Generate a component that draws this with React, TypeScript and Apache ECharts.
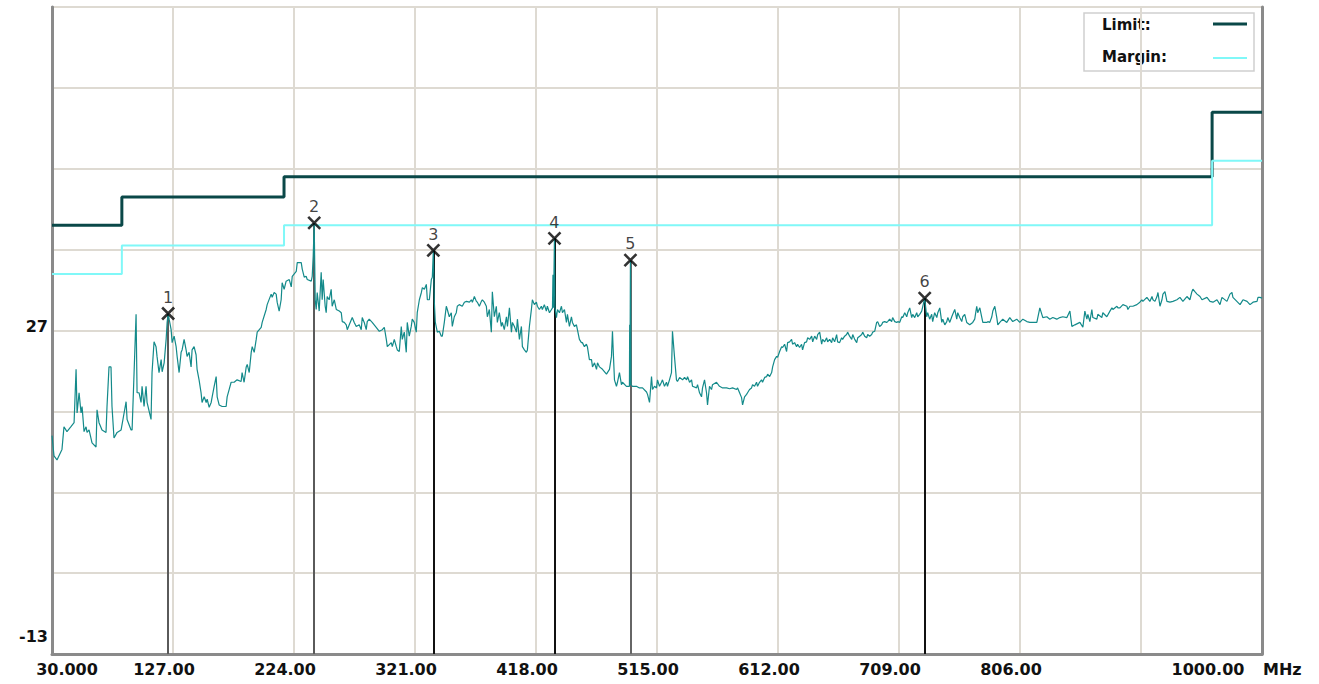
import React, { useEffect, useRef } from "react";
import * as echarts from "echarts";

// ---- data ----
const xTickLabels = ["30.000", "127.00", "224.00", "321.00", "418.00", "515.00", "612.00", "709.00", "806.00", "", "1000.00"];
const yShownLabels = [27, -13];
const legendNames = ["Limit:", "Margin:"];
const xUnit = "MHz";

const limitMHz = [30, 86, 86, 216, 216, 960, 960, 1000];
const limitDb = [40, 40, 43.5, 43.5, 46, 46, 54, 54];
const marginDb = [34, 34, 37.5, 37.5, 40, 40, 48, 48];

const markerIds = ["1", "2", "3", "4", "5", "6"];
const markerMHz = [123.1, 240.2, 335.7, 432.8, 493.7, 729.6];
const markerDb = [29.1, 40.3, 36.9, 38.4, 35.7, 31.0];

const tracePoints: [number, number][] = [
  [30.0,14.0],[31.6,11.5],[34.0,11.0],[38.0,12.3],[39.6,15.1],[42.0,14.5],[45.2,15.1],[47.7,15.6],[49.3,22.2],[50.1,16.8],[51.7,19.3],[53.3,16.8],[54.1,17.6],[55.7,14.5],[57.3,15.1],[58.1,14.4],[59.7,14.7],[62.1,13.1],[65.3,12.6],[66.1,17.2],[67.7,15.6],[70.1,14.7],[73.3,14.4],[74.1,17.6],[75.7,22.5],[77.3,22.5],[78.1,17.6],[79.7,13.7],[82.2,14.4],[85.4,14.7],[87.8,16.8],[89.4,18.2],[90.2,16.0],[93.4,14.7],[94.2,14.7],[95.8,21.8],[97.4,29.0],[98.2,19.3],[99.8,19.3],[101.4,18.1],[102.2,20.1],[103.8,17.6],[105.4,20.1],[106.2,18.1],[109.4,16.0],[110.2,21.8],[111.8,25.6],[113.4,25.0],[114.2,23.8],[115.8,21.8],[117.5,23.4],[118.3,21.9],[119.9,23.0],[121.5,25.9],[122.3,28.0],[123.1,29.1],[123.9,28.4],[125.5,27.1],[126.3,25.5],[127.9,26.3],[129.5,25.0],[130.3,23.8],[131.9,21.8],[133.5,24.3],[134.3,24.6],[135.9,25.9],[137.5,24.6],[138.3,23.8],[139.9,24.3],[141.5,22.5],[142.3,24.6],[143.9,25.0],[145.5,24.0],[146.3,22.2],[147.9,20.9],[149.5,19.3],[150.3,18.1],[152.0,18.8],[153.6,18.1],[154.4,18.5],[156.0,17.5],[157.6,18.1],[158.4,18.8],[160.0,20.1],[161.6,21.3],[162.4,18.8],[164.0,17.8],[166.4,17.6],[169.6,17.6],[170.4,18.8],[172.0,19.7],[173.6,20.6],[176.0,20.6],[178.4,20.9],[181.6,20.7],[182.4,21.8],[184.0,20.6],[185.7,22.5],[186.5,22.8],[188.1,21.8],[189.7,24.3],[190.5,25.0],[192.1,24.3],[193.7,25.9],[194.5,26.8],[197.7,27.4],[198.5,28.0],[201.7,29.6],[202.5,30.2],[205.7,31.5],[206.5,31.1],[208.1,31.7],[209.7,31.5],[210.5,30.5],[212.1,29.4],[213.7,30.8],[214.5,32.9],[216.1,32.1],[217.7,33.1],[220.2,33.3],[221.8,32.4],[222.6,33.7],[225.8,34.3],[226.6,35.4],[229.8,35.4],[230.6,34.6],[232.2,33.6],[233.8,33.7],[234.6,33.3],[237.8,33.1],[238.6,33.7],[239.4,36.2],[240.2,40.3],[240.6,35.4],[241.0,30.8],[241.8,29.6],[242.6,31.7],[244.2,29.4],[245.8,34.2],[246.6,30.8],[247.4,33.3],[249.0,30.0],[249.8,29.2],[250.6,31.2],[252.2,30.8],[253.8,32.1],[254.6,30.0],[256.3,30.8],[257.9,29.6],[260.3,29.4],[261.9,29.2],[262.7,28.1],[264.3,28.0],[265.9,27.7],[266.7,27.1],[268.3,27.7],[270.7,28.6],[272.3,28.0],[273.9,27.5],[276.3,27.7],[277.9,27.1],[278.7,28.6],[280.3,28.0],[281.9,27.1],[282.7,28.1],[284.3,28.4],[286.7,28.0],[289.9,27.4],[292.4,26.9],[294.8,27.1],[296.4,27.4],[298.0,25.9],[298.8,25.0],[302.0,25.5],[302.8,25.0],[304.4,25.9],[306.0,25.0],[306.8,24.6],[308.4,24.4],[310.0,27.5],[310.8,25.9],[312.4,26.8],[314.0,24.3],[314.8,28.0],[316.4,26.3],[318.0,27.5],[318.8,28.4],[320.4,28.0],[322.0,26.8],[322.8,29.2],[324.5,30.8],[326.1,31.7],[326.9,32.3],[328.5,32.1],[330.1,32.7],[330.9,30.8],[332.5,30.8],[334.1,33.3],[334.9,33.6],[335.7,36.9],[336.5,30.5],[337.3,28.0],[338.9,26.8],[340.5,26.9],[342.1,26.3],[342.9,26.3],[344.5,28.0],[346.1,30.0],[346.9,29.6],[348.5,28.7],[350.1,29.2],[350.9,27.5],[352.5,28.7],[354.1,29.2],[354.9,30.0],[356.5,30.2],[358.9,30.0],[360.6,30.5],[362.2,30.6],[364.6,30.5],[366.2,30.8],[367.0,30.5],[368.6,31.2],[370.2,30.6],[371.0,30.5],[372.6,30.0],[374.2,30.6],[375.0,30.8],[376.6,30.5],[378.2,30.0],[379.0,28.7],[380.6,29.6],[382.2,26.8],[383.0,31.8],[384.6,28.7],[386.2,30.0],[387.0,28.0],[388.6,29.2],[390.2,27.5],[391.0,28.0],[392.6,27.1],[394.3,28.7],[395.1,27.5],[396.7,29.8],[398.3,26.8],[399.1,28.0],[400.7,27.5],[402.3,26.8],[403.1,28.4],[404.7,25.9],[406.3,27.5],[407.1,25.0],[408.7,24.6],[410.3,24.3],[411.1,24.6],[412.7,27.5],[414.3,29.6],[415.1,30.8],[416.7,30.2],[418.3,30.5],[419.1,30.0],[420.7,29.6],[422.3,30.0],[423.1,29.6],[424.7,30.2],[426.3,29.4],[427.1,30.0],[428.8,29.2],[430.4,29.6],[431.2,29.8],[431.6,33.9],[432.0,29.8],[432.4,33.9],[432.8,38.4],[433.2,29.8],[434.4,28.6],[435.2,29.6],[436.8,29.2],[438.4,30.0],[439.2,29.2],[440.8,29.6],[442.4,28.0],[443.2,29.0],[444.8,27.5],[446.4,28.7],[447.2,28.0],[448.8,27.5],[450.4,27.7],[451.2,27.1],[452.8,25.9],[454.4,25.5],[455.2,25.5],[456.8,25.0],[458.4,25.3],[459.2,25.0],[460.8,23.4],[462.5,23.4],[463.3,22.5],[464.9,23.0],[466.5,22.2],[467.3,23.0],[468.9,22.5],[471.3,22.2],[474.5,21.6],[476.9,22.2],[478.5,23.8],[479.3,26.9],[480.1,23.8],[480.9,20.9],[482.5,20.1],[483.3,20.6],[484.9,21.8],[486.5,20.3],[487.3,20.6],[490.5,20.1],[492.9,20.1],[493.1,27.7],[493.3,20.3],[493.5,27.7],[493.7,35.7],[494.1,20.3],[495.3,20.1],[498.5,20.1],[500.9,19.9],[503.4,19.9],[506.6,19.4],[507.4,19.1],[509.0,18.1],[510.6,21.3],[511.4,19.7],[513.0,20.1],[514.6,19.9],[515.4,20.9],[517.0,20.1],[518.6,20.6],[519.4,20.9],[521.0,20.1],[522.6,20.6],[523.4,20.1],[525.0,20.9],[526.6,21.8],[527.4,26.9],[529.0,23.8],[530.6,20.9],[531.4,20.7],[533.1,21.2],[535.5,20.9],[537.1,21.2],[538.7,20.9],[539.5,21.3],[541.1,20.6],[542.7,20.9],[543.5,20.1],[546.7,19.9],[547.5,20.3],[549.1,19.3],[550.7,18.8],[551.5,19.9],[553.1,20.9],[554.7,19.3],[555.5,17.8],[557.1,20.1],[558.7,19.7],[559.5,20.3],[562.7,20.6],[565.1,20.1],[567.6,19.9],[570.8,19.9],[573.2,19.8],[575.6,19.9],[578.8,19.7],[579.6,19.9],[581.2,19.3],[582.8,18.7],[583.6,17.8],[585.2,18.8],[586.8,19.1],[587.6,19.3],[589.2,19.7],[590.8,19.9],[591.6,20.3],[593.2,20.1],[594.8,20.6],[595.6,20.1],[597.2,20.6],[598.8,20.9],[599.6,20.6],[601.3,21.2],[602.9,21.3],[603.7,21.6],[605.3,21.3],[606.9,21.8],[607.7,22.5],[609.3,23.4],[610.9,23.8],[611.7,23.7],[613.3,24.4],[614.9,25.0],[615.7,24.9],[617.3,25.3],[618.9,24.4],[619.7,25.5],[621.3,25.6],[622.9,25.9],[623.7,25.3],[625.3,25.5],[626.9,25.0],[627.7,25.3],[629.3,24.9],[630.9,25.3],[631.7,24.6],[633.3,25.5],[634.9,25.6],[635.8,26.1],[637.4,25.9],[639.0,26.3],[639.8,25.6],[641.4,26.3],[643.0,25.9],[643.8,26.5],[645.4,26.8],[647.0,25.3],[647.8,25.9],[649.4,25.6],[651.0,26.1],[651.8,25.6],[653.4,25.9],[655.0,25.5],[655.8,26.1],[657.4,25.6],[659.0,26.5],[659.8,25.6],[661.4,25.5],[663.0,26.1],[663.8,25.9],[665.4,26.3],[667.0,26.5],[667.8,26.8],[669.4,26.3],[671.1,25.9],[671.9,26.5],[673.5,25.9],[675.1,25.5],[675.9,26.1],[677.5,26.3],[679.1,26.5],[679.9,26.8],[681.5,26.3],[683.1,26.1],[683.9,26.5],[685.5,26.3],[687.1,26.5],[687.9,26.8],[689.5,26.9],[691.1,28.0],[691.9,28.1],[693.5,27.5],[695.1,27.7],[695.9,28.0],[697.5,28.1],[699.1,28.0],[699.9,28.1],[701.5,28.4],[703.1,28.1],[703.9,28.6],[705.6,28.1],[707.2,28.0],[708.0,28.1],[709.6,28.0],[711.2,28.7],[712.0,28.6],[713.6,29.2],[715.2,28.7],[716.0,29.2],[717.6,29.8],[719.2,28.6],[720.0,29.0],[721.6,28.6],[723.2,29.2],[724.0,28.7],[725.6,29.0],[727.2,29.4],[729.6,31.0],[731.2,28.7],[732.0,29.2],[733.6,28.4],[735.2,29.0],[736.0,28.1],[737.6,29.2],[739.3,28.6],[740.1,29.2],[741.7,29.8],[743.3,28.0],[744.1,28.4],[745.7,27.7],[747.3,28.1],[748.1,28.6],[749.7,28.0],[751.3,28.7],[752.1,29.0],[753.7,29.6],[755.3,28.4],[756.1,29.2],[757.7,28.6],[759.3,28.1],[760.1,28.7],[761.7,29.0],[763.3,28.0],[765.7,27.7],[768.1,28.0],[769.7,28.4],[771.3,30.0],[772.1,29.2],[773.8,29.8],[775.4,28.6],[776.2,28.0],[779.4,28.0],[780.2,28.1],[781.8,28.0],[783.4,28.7],[784.2,29.4],[785.8,30.0],[787.4,28.6],[788.2,27.7],[789.8,28.0],[792.2,28.4],[795.4,28.0],[797.8,28.6],[800.2,28.1],[803.4,28.4],[805.8,28.0],[808.3,28.4],[811.5,28.1],[813.9,28.0],[816.3,28.0],[819.5,28.0],[821.9,29.8],[824.3,28.6],[827.5,28.7],[829.9,28.4],[832.3,28.6],[835.5,28.4],[837.9,28.6],[840.3,28.7],[843.6,28.6],[846.0,29.4],[847.6,27.5],[850.0,27.7],[854.0,28.0],[856.4,27.4],[858.0,29.4],[859.6,28.4],[860.4,29.0],[862.0,28.1],[863.6,29.6],[864.4,28.6],[867.6,28.4],[868.4,29.0],[871.6,28.6],[872.4,29.2],[875.6,28.7],[878.1,29.4],[879.7,29.8],[880.5,29.6],[883.7,30.0],[884.5,29.8],[886.1,29.8],[888.5,30.2],[891.7,30.0],[892.5,29.6],[894.1,30.0],[896.5,30.0],[899.7,30.2],[902.1,30.5],[903.7,30.8],[904.5,30.6],[907.7,31.1],[910.1,30.6],[911.8,31.2],[912.6,30.8],[914.2,30.6],[915.8,31.2],[916.6,31.7],[918.2,30.0],[919.8,30.8],[920.6,31.5],[922.2,31.8],[923.8,30.6],[926.2,30.5],[928.6,30.6],[931.8,30.8],[934.2,31.1],[936.6,30.6],[939.8,31.2],[942.2,30.8],[943.8,31.8],[944.6,32.1],[946.2,31.8],[947.9,31.5],[950.3,31.2],[951.9,30.8],[955.9,31.1],[958.3,30.6],[960.7,30.5],[963.9,30.8],[966.3,30.2],[967.9,31.1],[971.9,30.6],[974.3,31.5],[975.9,31.7],[976.7,31.1],[982.4,30.2],[984.0,30.6],[984.8,30.8],[988.0,30.6],[990.4,30.2],[992.8,30.5],[996.0,30.6],[996.8,31.1],[998.4,31.1],[1000.0,31.0]
];

// ---- styles ----
const FONT = "DejaVu Sans";
const LIMIT_COLOR = "#0a4848";
const MARGIN_COLOR = "#80f8f8";
const TRACE_COLOR = "#138a8a";
const GRID_COLOR = "#dedad2";
const AXIS_COLOR = "#8a8a8a";
const markerLineColors = ["#5a5a5a", "#5a5a5a", "#111111", "#111111", "#666666", "#111111"];

export default function App() {
  const ref = useRef<HTMLDivElement>(null);

  useEffect(() => {
    if (!ref.current) return;
    const chart = echarts.init(ref.current, undefined, { renderer: "svg" });

    const labelStyle = { fontFamily: FONT, fontWeight: "bold" as const, fontSize: 16, color: "#111" };

    const option: any = {
      animation: false,
      backgroundColor: "#ffffff",
      grid: {
        left: 52,
        right: 57,
        top: 7,
        bottom: 30,
        show: true,
        borderColor: "#bcbcbc",
        borderWidth: 2,
        backgroundColor: "transparent",
      },
      xAxis: {
        type: "value",
        min: 30,
        max: 1000,
        interval: 97,
        name: `{u|${xUnit}}`,
        nameLocation: "end",
        nameGap: 1,
        nameTextStyle: {
          ...labelStyle,
          align: "left",
          verticalAlign: "top",
          rich: { u: { ...labelStyle, padding: [7, 0, 0, 0] } },
        },
        axisLine: { show: true, onZero: false, lineStyle: { color: AXIS_COLOR, width: 3 } },
        axisTick: { show: false },
        splitLine: { show: true, lineStyle: { color: GRID_COLOR, width: 2 } },
        axisLabel: {
          interval: 0,
          margin: 7,
          showMinLabel: true,
          showMaxLabel: true,
          ...labelStyle,
          formatter: (_v: number, idx: number) => {
            const t = xTickLabels[idx] ?? "";
            if (!t) return "";
            if (idx === 0) return `{first|${t}}`;
            if (idx === xTickLabels.length - 1) return `{last|${t}}`;
            return `{mid|${t}}`;
          },
          rich: {
            first: { ...labelStyle, padding: [0, 0, 0, 30] },
            mid: { ...labelStyle, padding: [0, 18, 0, 0] },
            last: { ...labelStyle, padding: [0, 108, 0, 0] },
          },
        },
      },
      yAxis: [
        {
          type: "value",
          min: -13,
          max: 67,
          interval: 10,
          axisLine: { show: true, onZero: false, lineStyle: { color: AXIS_COLOR, width: 3 } },
          axisTick: { show: false },
          splitLine: { show: true, lineStyle: { color: GRID_COLOR, width: 2 } },
          axisLabel: {
            margin: 4,
            ...labelStyle,
            formatter: (v: number) => {
              if (!yShownLabels.includes(v)) return "";
              return v === yShownLabels[1] ? `{low|${v}}` : `{std|${v}}`;
            },
            rich: {
              std: { ...labelStyle, padding: [0, 0, 8, 0] },
              low: { ...labelStyle, padding: [0, 0, 36, 0] },
            },
          },
        },
        {
          type: "value",
          position: "right",
          min: -13,
          max: 67,
          interval: 10,
          axisLine: { show: true, onZero: false, lineStyle: { color: AXIS_COLOR, width: 3 } },
          axisTick: { show: false },
          axisLabel: { show: false },
          splitLine: { show: false },
        },
      ],
      graphic: [
        {
          type: "group",
          z: 100,
          children: [
            {
              type: "rect",
              shape: { x: 1084, y: 13, width: 170, height: 58 },
              style: { fill: "#ffffff", stroke: "#cfcfcf", lineWidth: 1.5 },
            },
            {
              type: "text",
              x: 1102,
              y: 25,
              style: { text: legendNames[0], fontFamily: FONT, fontWeight: "bold", fontSize: 15, fill: "#111", verticalAlign: "middle" },
            },
            {
              type: "text",
              x: 1102,
              y: 57,
              style: { text: legendNames[1], fontFamily: FONT, fontWeight: "bold", fontSize: 15, fill: "#111", verticalAlign: "middle" },
            },
            {
              type: "line",
              shape: { x1: 1213, y1: 24, x2: 1247, y2: 24 },
              style: { stroke: LIMIT_COLOR, lineWidth: 3 },
            },
            {
              type: "line",
              shape: { x1: 1213, y1: 58, x2: 1247, y2: 58 },
              style: { stroke: MARGIN_COLOR, lineWidth: 2 },
            },
          ],
        },
      ],
      series: [
        {
          name: "Limit",
          type: "line",
          z: 2,
          symbol: "none",
          silent: true,
          lineStyle: { color: LIMIT_COLOR, width: 3 },
          data: limitMHz.map((f, i) => [f, limitDb[i]]),
        },
        {
          name: "Margin",
          type: "line",
          z: 2,
          symbol: "none",
          silent: true,
          lineStyle: { color: MARGIN_COLOR, width: 2 },
          data: limitMHz.map((f, i) => [f, marginDb[i]]),
        },
        {
          name: "MarkerLines",
          type: "lines",
          coordinateSystem: "cartesian2d",
          z: 3,
          silent: true,
          lineStyle: { width: 2, opacity: 1 },
          data: markerMHz.map((f, i) => ({
            coords: [
              [f, -13],
              [f, markerDb[i]],
            ],
            lineStyle: { color: markerLineColors[i], width: 2, opacity: 1 },
          })),
        },
        {
          name: "Trace",
          type: "line",
          z: 4,
          symbol: "none",
          showSymbol: false,
          silent: true,
          lineStyle: { color: TRACE_COLOR, width: 1.2 },
          data: tracePoints,
        },
        {
          name: "Markers",
          type: "scatter",
          z: 6,
          silent: true,
          symbol: "path://M0,0L10,10M10,0L0,10",
          symbolSize: 12,
          itemStyle: { color: "rgba(0,0,0,0)", borderColor: "#000", borderWidth: 2.6 },
          label: {
            show: true,
            position: "top",
            distance: 1,
            fontFamily: FONT,
            fontSize: 16,
            color: "#111",
            formatter: (p: any) => markerIds[p.dataIndex],
          },
          data: markerMHz.map((f, i) => [f, markerDb[i]]),
        },
      ],
    };

    chart.setOption(option);
    return () => chart.dispose();
  }, []);

  return (
    <div
      ref={ref}
      style={{ position: "absolute", left: 0, top: 0, width: 1319, height: 684, background: "#fff" }}
    />
  );
}
